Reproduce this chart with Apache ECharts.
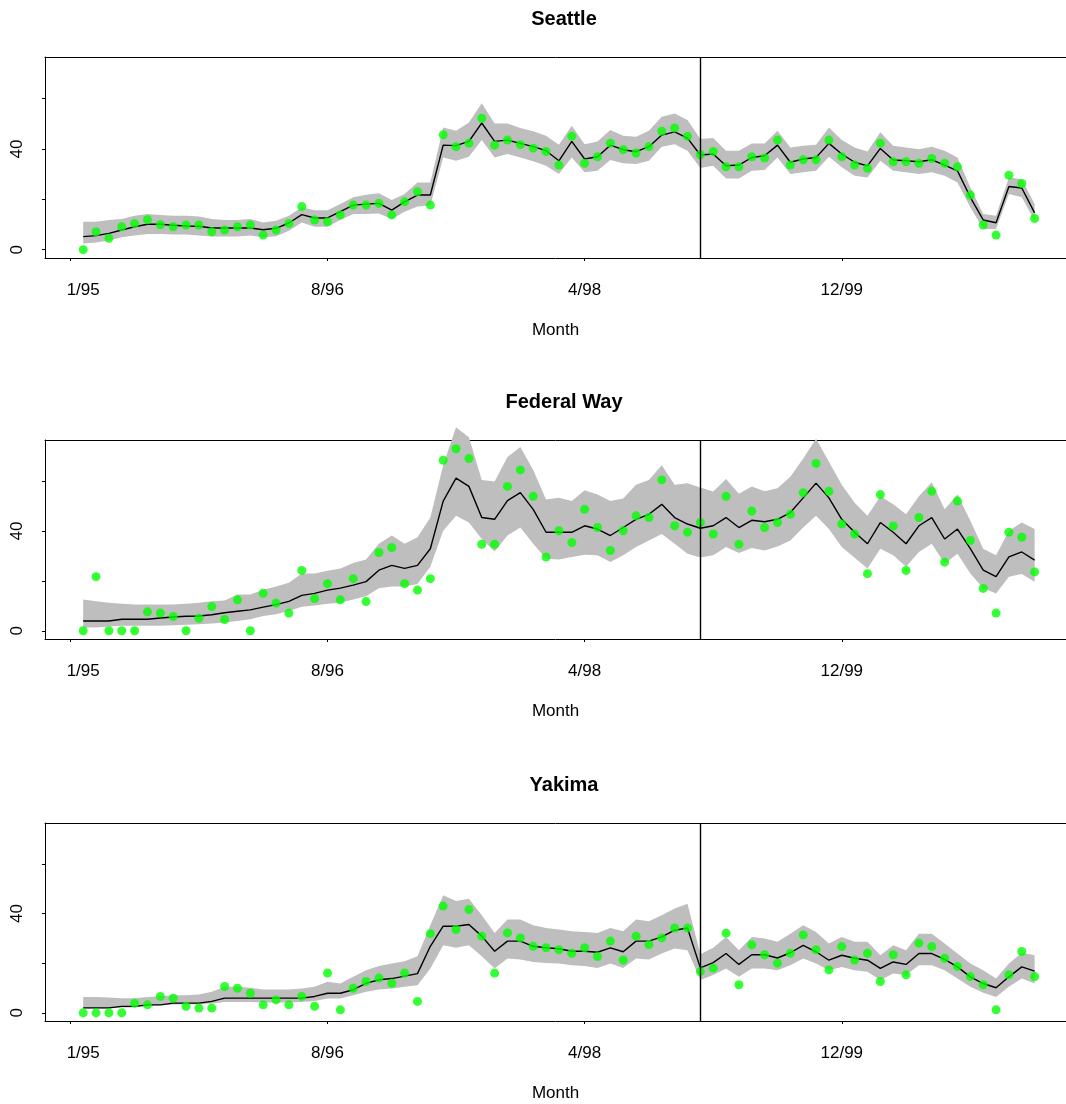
<!DOCTYPE html>
<html><head><meta charset="utf-8">
<script src="https://cdn.jsdelivr.net/npm/echarts@6/dist/echarts.min.js"></script>
<style>html,body{margin:0;padding:0;background:#fff;} #c{width:1066px;height:1104px;}</style>
</head><body><div id="c"></div><script>
const panelNames = ['Seattle', 'Federal Way', 'Yakima'];
const xTickValues = [0, 20, 40, 60];
const xLabelValues = [1, 20, 40, 60];
const xTickLabels = ['1/95', '8/96', '4/98', '12/99'];
const yTickValues = [0, 20, 40, 60];
const yLabelValues = [0, 40];
const interventionMonth = 49;

// Seattle
const seattleObs = [0, 7.1, 4.5, 9.1, 10.4, 11.9, 9.9, 9.1, 9.8, 9.8,
  7.1, 7.8, 9.1, 9.8, 5.8, 7.8, 10.4, 17.1, 11.8, 11.1,
  13.8, 17.7, 17.7, 18.4, 13.8, 19.0, 23.0, 17.7, 45.6, 40.9,
  42.3, 52.2, 41.5, 43.5, 41.7, 40.3, 39.0, 33.6, 45.0, 34.3,
  36.9, 42.3, 39.7, 38.4, 40.9, 47.0, 48.3, 45.0, 37.7, 39.0,
  32.9, 32.9, 36.9, 36.4, 43.5, 33.6, 35.7, 35.7, 43.5, 36.9,
  33.6, 32.3, 42.3, 34.9, 34.9, 34.3, 36.2, 34.3, 32.9, 21.7,
  9.8, 5.8, 29.6, 26.3, 12.4];
const seattleFit = [5.2, 5.6, 6.5, 7.8, 9.1, 10.1, 10.1, 9.7, 9.4, 9.3,
  8.6, 8.6, 8.6, 8.6, 7.9, 8.5, 10.6, 13.9, 12.6, 12.6,
  15.1, 17.7, 18.1, 18.4, 15.7, 19.0, 21.7, 21.7, 41.5, 41.3,
  43.0, 50.3, 43.0, 43.5, 42.2, 40.9, 39.3, 35.3, 43.0, 36.0,
  36.9, 41.5, 39.7, 38.9, 40.9, 45.5, 46.8, 44.3, 37.6, 38.0,
  33.3, 33.6, 36.6, 37.3, 41.5, 34.7, 36.0, 36.6, 42.2, 38.0,
  34.7, 33.3, 40.2, 35.6, 35.3, 34.9, 35.7, 33.6, 31.3, 20.8,
  11.8, 10.7, 25.1, 24.5, 14.6];
const seattleUpper = [11.1, 11.1, 11.8, 12.2, 13.5, 14.2, 13.8, 13.5, 13.5, 13.2,
  12.2, 11.8, 11.8, 12.2, 10.8, 11.5, 13.5, 16.8, 15.7, 15.7,
  18.1, 20.8, 21.8, 22.4, 19.7, 22.1, 26.7, 26.7, 48.5, 47.2,
  50.5, 58.1, 50.1, 50.1, 48.3, 47.0, 45.2, 41.7, 49.2, 41.9,
  43.0, 47.5, 45.2, 44.8, 47.2, 52.8, 54.1, 51.5, 43.9, 44.3,
  39.3, 39.3, 42.2, 42.2, 47.2, 40.6, 41.3, 41.7, 48.5, 43.5,
  40.6, 39.0, 46.6, 41.3, 40.6, 39.9, 40.9, 39.3, 36.6, 24.7,
  14.2, 13.5, 28.7, 28.0, 18.1];
const seattleLower = [2.5, 2.9, 3.6, 4.9, 5.6, 6.2, 6.2, 6.0, 6.0, 5.6,
  5.2, 5.2, 5.2, 5.6, 4.9, 5.3, 7.5, 10.8, 9.1, 9.1,
  11.8, 14.2, 14.2, 14.4, 12.2, 15.1, 17.1, 17.5, 36.6, 35.3,
  36.9, 43.5, 36.6, 38.0, 36.6, 35.1, 33.3, 30.0, 36.6, 30.7,
  31.3, 35.6, 34.3, 34.0, 35.3, 40.9, 41.9, 39.3, 32.4, 33.3,
  28.3, 28.3, 31.3, 31.6, 36.6, 30.0, 30.7, 31.3, 36.9, 32.7,
  29.4, 28.7, 35.3, 31.3, 30.7, 30.0, 30.7, 29.4, 26.7, 16.8,
  8.2, 8.2, 22.1, 20.8, 11.5];

// Federal Way
const federalObs = [0, 21.7, 0, 0, 0, 7.6, 7.1, 5.7, 0, 5.0,
  9.7, 4.5, 12.4, 0, 15.0, 11.1, 7.1, 24.2, 12.9, 18.9,
  12.4, 20.9, 11.7, 31.4, 33.4, 18.9, 16.3, 20.9, 68.4, 73.0,
  69.1, 34.7, 34.7, 57.9, 64.5, 53.9, 29.6, 40.1, 35.4, 48.7,
  41.4, 32.2, 40.1, 46.1, 45.4, 60.5, 42.1, 39.5, 43.4, 38.8,
  53.9, 34.7, 48.0, 41.4, 43.4, 46.7, 55.3, 67.1, 55.9, 42.8,
  38.8, 22.9, 54.6, 42.0, 24.2, 45.4, 55.9, 27.5, 52.0, 36.2,
  17.0, 7.1, 39.5, 37.5, 23.6];
const federalFit = [3.9, 3.9, 3.9, 4.6, 4.6, 4.6, 5.1, 5.5, 5.8, 5.9,
  6.4, 7.2, 7.8, 8.4, 9.5, 10.5, 11.8, 14.2, 15.0, 16.3,
  17.1, 18.3, 19.7, 24.3, 26.2, 25.0, 26.2, 32.9, 52.0, 61.2,
  57.9, 45.4, 44.7, 52.2, 55.4, 48.7, 39.5, 39.5, 39.5, 42.1,
  40.8, 38.2, 41.4, 44.7, 46.7, 50.7, 45.4, 42.8, 41.1, 42.1,
  45.4, 41.4, 44.3, 43.7, 44.7, 47.4, 53.3, 59.2, 53.3, 44.7,
  39.5, 34.9, 43.4, 39.5, 34.9, 42.1, 45.4, 36.8, 40.8, 32.9,
  24.3, 21.7, 29.6, 31.6, 28.3];
const federalUpper = [12.5, 11.8, 11.2, 10.8, 10.5, 10.5, 10.5, 10.5, 10.8, 11.2,
  11.8, 12.1, 14.5, 14.5, 16.4, 17.8, 19.3, 23.0, 23.0, 24.1,
  25.0, 27.2, 28.6, 34.9, 38.2, 34.9, 37.5, 45.4, 66.4, 81.6,
  77.6, 60.5, 59.9, 69.7, 73.7, 64.5, 52.6, 53.3, 52.0, 56.3,
  54.6, 52.0, 53.0, 58.6, 60.5, 66.4, 58.6, 59.2, 57.5, 55.8,
  60.9, 54.9, 57.9, 55.9, 57.2, 61.8, 69.1, 77.0, 67.8, 58.6,
  51.3, 46.1, 53.9, 50.7, 46.7, 53.9, 59.6, 48.7, 54.6, 44.1,
  32.9, 30.3, 40.1, 43.4, 40.8];
const federalLower = [1.3, 1.3, 1.7, 2.0, 2.0, 2.0, 2.0, 2.2, 2.4, 2.6,
  2.9, 3.3, 3.9, 4.6, 5.9, 6.6, 7.9, 9.6, 10.1, 10.8,
  11.2, 12.5, 13.8, 17.1, 17.8, 17.8, 18.8, 25.7, 40.1, 46.1,
  43.4, 36.8, 31.8, 38.2, 41.4, 34.9, 28.9, 28.6, 29.6, 30.5,
  30.3, 27.6, 30.3, 33.6, 36.2, 38.8, 34.9, 30.9, 29.4, 30.3,
  33.6, 31.2, 33.2, 32.2, 33.8, 36.2, 41.4, 46.1, 40.8, 33.6,
  29.3, 25.0, 32.9, 30.3, 25.7, 31.6, 34.9, 27.0, 30.9, 23.0,
  17.1, 14.9, 21.7, 22.8, 19.7];

// Yakima
const yakimaObs = [0, 0, 0, 0, 3.9, 3.2, 6.6, 5.9, 2.6, 1.9,
  1.9, 10.6, 9.9, 7.9, 3.2, 5.2, 3.2, 6.6, 2.6, 16.0,
  1.2, 9.9, 12.6, 14.0, 11.9, 16.0, 4.6, 31.9, 43.0, 33.6,
  41.6, 30.9, 16.0, 32.2, 30.2, 26.8, 26.2, 25.4, 24.0, 26.2,
  22.7, 28.9, 21.3, 30.9, 27.5, 30.2, 34.2, 34.2, 16.6, 18.0,
  32.1, 11.3, 27.4, 23.4, 20.0, 24.0, 31.4, 25.4, 17.3, 26.7,
  21.3, 24.0, 12.6, 23.4, 15.3, 28.1, 26.7, 22.0, 18.7, 14.6,
  11.3, 1.2, 15.3, 24.7, 14.6];
const yakimaFit = [2.0, 2.0, 2.0, 2.6, 2.6, 3.2, 3.2, 3.9, 3.9, 3.9,
  4.6, 5.9, 5.9, 5.9, 5.9, 5.9, 5.9, 5.9, 6.6, 7.9,
  7.9, 9.3, 11.9, 13.3, 13.8, 14.8, 15.8, 26.8, 34.9, 34.9,
  35.6, 30.9, 24.8, 28.9, 28.9, 26.8, 26.2, 25.8, 24.8, 24.8,
  24.4, 26.2, 24.6, 28.9, 28.9, 30.6, 33.3, 34.2, 18.1, 20.2,
  23.9, 19.5, 23.4, 23.4, 22.1, 24.2, 27.2, 24.6, 21.2, 23.2,
  22.0, 21.2, 17.9, 20.5, 19.5, 23.9, 23.9, 21.5, 18.5, 14.5,
  11.8, 10.1, 14.5, 18.5, 16.8];
const yakimaUpper = [6.4, 6.4, 6.2, 5.9, 5.9, 6.4, 6.7, 7.1, 7.1, 7.4,
  8.5, 10.5, 10.5, 10.1, 9.4, 9.4, 9.4, 9.8, 10.5, 12.5,
  11.8, 14.5, 17.2, 18.9, 19.9, 20.8, 22.8, 35.3, 47.4, 45.1,
  46.0, 39.3, 32.2, 37.6, 37.6, 35.3, 34.2, 33.6, 32.9, 32.6,
  32.2, 34.2, 32.9, 37.6, 36.9, 39.3, 42.0, 44.0, 23.6, 26.2,
  30.6, 25.2, 30.6, 29.9, 28.6, 31.9, 35.3, 32.6, 27.9, 30.6,
  28.6, 28.6, 23.2, 27.2, 25.2, 31.9, 31.9, 27.9, 23.9, 19.9,
  17.2, 13.8, 19.9, 24.2, 23.2];
const yakimaLower = [1.7, 1.7, 1.7, 2.1, 2.1, 2.7, 3.0, 3.4, 3.4, 3.5,
  3.8, 4.4, 4.4, 4.4, 4.2, 4.2, 4.2, 4.4, 4.8, 5.8,
  5.8, 7.1, 8.5, 9.4, 9.8, 10.5, 11.1, 17.9, 27.2, 26.2,
  27.2, 22.8, 17.9, 21.9, 21.5, 20.5, 20.1, 19.9, 19.2, 18.9,
  18.1, 19.9, 18.1, 21.9, 21.5, 23.9, 25.9, 25.2, 13.2, 15.2,
  17.9, 14.5, 17.9, 17.9, 17.2, 19.2, 21.9, 19.9, 17.2, 18.5,
  17.2, 16.5, 13.2, 15.8, 15.2, 19.2, 19.2, 17.2, 13.8, 10.5,
  8.1, 6.4, 10.5, 13.8, 11.8];

const panels = [
  {obs: seattleObs, fit: seattleFit, upper: seattleUpper, lower: seattleLower},
  {obs: federalObs, fit: federalFit, upper: federalUpper, lower: federalLower},
  {obs: yakimaObs, fit: yakimaFit, upper: yakimaUpper, lower: yakimaLower}
];

const FONT = "'Liberation Sans', Arial, Helvetica, sans-serif";
const gridTops = [57, 440, 823];
const gridHeights = [201, 199, 198];
const pairs = arr => arr.map((v, i) => [i + 1, v]);

const grids = [], xAxes = [], yAxes = [], titles = [], series = [];
panels.forEach((p, k) => {
  grids.push({left: 45, right: 0, top: gridTops[k], height: gridHeights[k], show: false});
  titles.push({text: panelNames[k], left: 559, textAlign: 'center', top: gridTops[k] - 53,
    textStyle: {fontFamily: FONT, fontSize: 20, fontWeight: 'bold', color: '#000'}});
  xAxes.push({type: 'value', gridIndex: k, min: -1.97, max: 77.44, position: 'bottom',
    axisLine: {show: true, onZero: false, lineStyle: {color: '#000', width: 1}},
    splitLine: {show: false},
    axisTick: {show: true, customValues: xTickValues, length: 3, lineStyle: {color: '#000'}},
    axisLabel: {customValues: xLabelValues, margin: 24, fontSize: 17, color: '#000', fontFamily: FONT,
      formatter: v => xTickLabels[xLabelValues.indexOf(Math.round(v))] || ''},
    name: 'Month', nameLocation: 'middle', nameGap: 64,
    nameTextStyle: {fontFamily: FONT, fontSize: 17, color: '#000'}});
  xAxes.push({type: 'value', gridIndex: k, min: -1.97, max: 77.44, position: 'top',
    axisLine: {show: true, onZero: false, lineStyle: {color: '#000', width: 1}},
    splitLine: {show: false}, axisTick: {show: false}, axisLabel: {show: false}});
  yAxes.push({type: 'value', gridIndex: k, min: -3.3, max: 76.5,
    axisLine: {show: true, onZero: false, lineStyle: {color: '#000', width: 1}},
    splitLine: {show: false},
    axisTick: {show: true, customValues: yTickValues, length: 3, lineStyle: {color: '#000'}},
    axisLabel: {customValues: yLabelValues, rotate: 90, margin: 19, fontSize: 17, color: '#000', fontFamily: FONT}});
  const xi = 2 * k;
  const up = p.upper, lo = p.lower;
  series.push({type: 'custom', xAxisIndex: xi, yAxisIndex: k, data: pairs(up), silent: true, clip: false, z: 1,
    renderItem: (params, api) => {
      if (params.dataIndex !== 0) return null;
      const pts = [];
      for (let i = 0; i < up.length; i++) pts.push(api.coord([i + 1, up[i]]));
      for (let i = lo.length - 1; i >= 0; i--) pts.push(api.coord([i + 1, lo[i]]));
      return {type: 'polygon', shape: {points: pts}, style: {fill: '#bebebe', stroke: null}};
    }});
  series.push({type: 'line', xAxisIndex: xi, yAxisIndex: k, data: pairs(p.fit), symbol: 'none',
    lineStyle: {color: '#000', width: 1.4}, silent: true, z: 3,
    markLine: {silent: true, symbol: ['none', 'none'], label: {show: false},
      lineStyle: {color: '#000', width: 1.4, type: 'solid'}, data: [{xAxis: interventionMonth}]}});
  series.push({type: 'scatter', xAxisIndex: xi, yAxisIndex: k, data: pairs(p.obs), symbolSize: 9,
    itemStyle: {color: '#00ff00'}, silent: true, z: 4});
});

const chart = echarts.init(document.getElementById('c'), null, {renderer: 'canvas'});
chart.setOption({animation: false, backgroundColor: '#fff', title: titles, grid: grids,
  xAxis: xAxes, yAxis: yAxes, series: series});
</script></body></html>
